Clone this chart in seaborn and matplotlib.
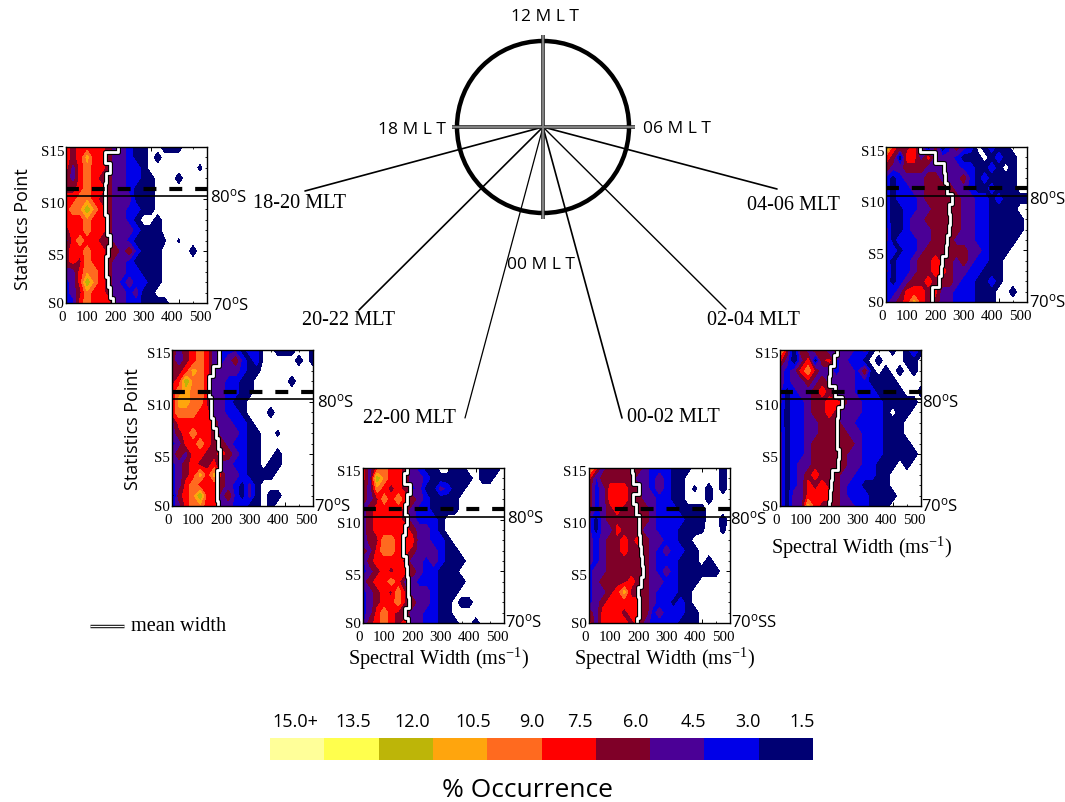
import numpy as np
import matplotlib
matplotlib.use("Agg")
import matplotlib.pyplot as plt
import seaborn as sns
from matplotlib.colors import ListedColormap
from matplotlib.patches import Circle
from matplotlib.ticker import MultipleLocator

# ==========================================
# 1. DATA (percent occurrence, rows S15 -> S0, columns 0-500 every 25 m/s)
# ==========================================
width_bins = np.arange(0, 525, 25)
stat_points = np.arange(15, -1, -1)

occ_18_20 = [
    [8, 7, 8, 8, 8, 8, 7, 5, 5, 4, 2, 2, 1, 1, 2, 2, 2, 1, 1, 1, 1],
    [8, 7, 8, 11, 8, 8, 7, 5, 5, 4, 2, 2, 1, 2, 1, 1, 1, 1, 1, 1, 1],
    [8, 5, 8, 10, 8, 8, 7, 5, 5, 4, 4, 2, 1, 1, 1, 1, 1, 1, 1, 1.7, 1],
    [7, 5, 8, 10, 8, 7, 7, 5, 5, 4, 4, 2, 2, 1, 1, 1, 2, 1, 1, 1, 1],
    [7, 7, 8, 10, 8, 8, 7, 5, 5, 4, 2, 2, 2, 1, 1, 1, 1, 1, 1, 1, 1],
    [8, 8, 10, 10, 8, 7, 7, 5, 5, 5, 2, 2, 2, 1, 1, 1, 1, 1, 1, 1, 1],
    [8, 10, 10, 13, 10, 8, 7, 5, 5, 4, 4, 2, 2, 1, 1, 1, 1, 1, 1, 1, 1],
    [8, 8, 8, 10, 8, 8, 7, 5, 5, 4, 2, 1, 1, 2, 1, 1, 1, 1, 1, 1, 1],
    [7, 8, 8, 10, 8, 8, 7, 5, 5, 5, 4, 2, 2, 2, 1, 1, 1, 1, 1, 1, 1],
    [5, 8, 10, 8, 8, 7, 7, 5, 5, 4, 2, 2, 2, 2, 1.6, 1, 1.6, 1, 1, 1, 1],
    [7, 8, 8, 10, 8, 8, 7, 7, 5, 7, 4, 2, 2, 2, 1, 1, 1, 1, 2, 1, 1],
    [7, 8, 7, 10, 8, 8, 7, 5, 5, 4, 2, 2, 2, 2, 1, 1, 1, 1, 1, 1, 1],
    [5, 5, 8, 10, 10, 8, 7, 5, 5, 4, 4, 2, 2, 2, 1, 1, 1, 1, 1, 1, 1],
    [4, 5, 8, 13, 10, 8, 7, 5, 4, 5, 4, 4, 2, 2, 1, 1, 1, 1, 1, 1, 1],
    [4, 5, 7, 10, 8, 8, 7, 5, 5, 4, 5, 2, 2, 1, 1, 1, 1, 1, 1, 1, 1],
    [4, 4, 8, 10, 8, 8, 8, 5, 5, 4, 4, 2, 2, 2, 2, 1, 1, 1, 1, 1, 1],
]
occ_20_22 = [
    [7, 5, 7, 8, 10, 8, 5, 4, 4, 4, 2, 4, 4, 1, 1, 2, 2, 2, 1, 1, 2],
    [7, 4, 7, 8, 10, 8, 5, 4, 5, 7, 4, 2, 4, 1, 1, 1, 1, 1, 2, 1, 2],
    [7, 7, 8, 11, 10, 8, 5, 5, 5, 5, 4, 2, 2, 1, 1, 1, 1, 1, 1, 1, 1],
    [7, 8, 13, 10, 10, 8, 5, 5, 4, 4, 2, 2, 1, 1, 1, 1, 1, 2, 1, 1, 1],
    [8, 10, 11, 10, 10, 8, 5, 5, 4, 4, 2, 2, 1, 1, 1, 1, 1, 1, 1, 1, 1],
    [7, 11, 11, 10, 10, 7, 5, 5, 4, 2, 2, 1, 1, 1, 1, 1, 1, 1, 1, 1, 1],
    [8, 10, 10, 10, 8, 8, 5, 5, 4, 4, 2, 1, 1, 1, 2, 1, 1, 1, 1, 1, 1],
    [5, 8, 8, 8, 8, 8, 7, 5, 5, 4, 4, 2, 1, 1, 1, 1, 1, 1, 1, 1, 1],
    [5, 7, 8, 10, 8, 8, 7, 5, 5, 5, 4, 2, 2, 1, 1, 1.7, 1, 1, 1, 1, 1],
    [4, 5, 8, 8, 10, 8, 7, 7, 5, 4, 4, 2, 2, 1, 1, 1, 1, 1, 1, 1, 1],
    [5, 7, 5, 8, 8, 7, 7, 8, 7, 5, 4, 2, 2, 1, 1, 2, 1, 1, 1, 1, 1],
    [4, 5, 7, 8, 7, 7, 8, 5, 5, 4, 4, 2, 2, 1, 2, 2, 1, 1, 1, 1, 1],
    [4, 5, 7, 8, 11, 8, 11, 7, 5, 5, 4, 2, 2, 2, 2, 1, 1, 1, 1, 1, 1],
    [4, 5, 8, 10, 8, 8, 8, 7, 5, 4, 2, 5, 2, 1, 1, 1, 1, 1, 1, 1, 1],
    [1, 7, 8, 10, 13, 8, 8, 5, 7, 4, 2, 5, 2, 1, 2, 2, 1, 1, 1, 1, 1],
    [4, 5, 8, 10, 10, 8, 8, 5, 5, 4, 4, 2, 2, 1, 2, 1, 1, 1, 1, 1, 1],
]
occ_22_00 = [
    [8, 5, 8, 10, 8, 8, 7, 5, 4, 2, 2, 1, 1, 2, 2, 1, 1, 2, 2, 2, 1],
    [8, 5, 13, 10, 8, 8, 7, 5, 5, 4, 2, 2, 2, 2, 2, 2, 1, 2, 2, 1, 1],
    [7, 5, 10, 8, 7, 8, 7, 4, 5, 2, 2, 5, 4, 2, 2, 1, 1, 1, 1, 1, 1],
    [7, 5, 7, 10, 8, 10, 8, 7, 5, 4, 2, 2, 2, 2, 1, 1, 1, 1, 1, 1, 1],
    [5, 7, 8, 8, 8, 8, 7, 5, 4, 4, 2, 2, 2, 2, 1, 1, 1, 1, 1, 1, 1],
    [5, 7, 8, 8, 8, 8, 7, 5, 4, 4, 4, 2, 1, 1, 1, 1, 1, 1, 1, 1, 1],
    [5, 7, 8, 8, 8, 8, 8, 7, 5, 5, 4, 2, 1, 1, 1, 1, 1, 1, 1, 1, 1],
    [4, 7, 7, 10, 10, 8, 8, 8, 5, 5, 4, 4, 2, 1, 1, 1, 1, 1, 1, 1, 1],
    [7, 5, 8, 10, 10, 8, 8, 7, 5, 5, 5, 4, 2, 2, 1, 1, 1, 1, 1, 1, 1],
    [4, 7, 8, 8, 8, 8, 7, 5, 5, 4, 5, 4, 2, 2, 2, 1, 1, 1, 1, 1, 1],
    [4, 5, 7, 8, 7, 8, 8, 7, 5, 4, 4, 2, 2, 2, 1, 1, 1, 1, 1, 1, 1],
    [5, 7, 8, 8, 10, 8, 5, 5, 4, 4, 4, 2, 2, 2, 2, 1, 1, 1, 1, 1, 1],
    [4, 5, 7, 8, 7, 10, 7, 5, 5, 5, 4, 2, 2, 2, 1, 1, 1, 1, 1, 1, 1],
    [4, 5, 7, 8, 8, 10, 7, 7, 5, 5, 4, 2, 2, 1, 2, 2, 1, 1, 1, 1, 1],
    [4, 5, 8, 10, 8, 7, 7, 5, 5, 4, 4, 2, 2, 1, 1, 1, 1, 1, 1, 1, 1],
    [4, 7, 8, 10, 8, 7, 8, 5, 5, 4, 4, 2, 2, 2, 1, 1, 2, 1, 1, 1, 1],
]
occ_00_02 = [
    [11, 8, 5, 7, 7, 7, 7, 7, 5, 4, 4, 4, 2, 2, 2, 1, 1, 1, 1, 2, 1],
    [8, 4, 7, 7, 7, 7, 7, 5, 5, 4, 5, 4, 2, 2, 1, 1, 1, 1, 1, 2, 1],
    [7, 4, 5, 8, 8, 8, 7, 7, 5, 4, 5, 4, 2, 2, 1, 1.7, 1, 2, 1, 2, 1],
    [7, 4, 5, 8, 8, 8, 7, 7, 5, 5, 4, 4, 2, 2, 1, 1, 1, 2, 1, 1, 1],
    [7, 4, 5, 7, 8, 7, 7, 7, 7, 5, 4, 4, 4, 2, 2, 2, 2, 1, 1, 1, 1],
    [5, 2, 5, 7, 7, 7, 7, 7, 7, 5, 4, 4, 4, 4, 2, 2, 2, 1, 1, 2, 1],
    [5, 2, 5, 5, 8, 7, 7, 7, 5, 5, 4, 4, 4, 2, 2, 2, 1.7, 1, 1, 1.8, 1],
    [5, 4, 5, 7, 7, 8, 7, 8, 7, 5, 5, 4, 4, 2, 2, 1, 1, 1, 1, 1, 1],
    [5, 4, 5, 7, 7, 8, 7, 7, 7, 5, 4, 5, 4, 4, 2, 2, 1, 1, 1, 1, 1],
    [5, 4, 5, 7, 7, 7, 7, 7, 7, 5, 4, 4, 4, 2, 2, 2, 1, 2, 1, 1, 1],
    [4, 5, 5, 7, 7, 7, 7, 7, 7, 5, 4, 5, 4, 2, 2, 2, 2, 2, 2, 1, 1],
    [4, 5, 7, 7, 7, 7, 8, 7, 7, 5, 5, 4, 4, 2, 2, 2, 1, 1, 1, 1, 1],
    [4, 5, 5, 7, 8, 11, 7, 7, 7, 5, 4, 4, 4, 2, 2, 1, 1, 1, 1, 1, 1],
    [4, 5, 7, 8, 8, 8, 8, 8, 7, 5, 4, 4, 2, 4, 2, 1, 1, 1, 1, 1, 1],
    [7, 5, 8, 8, 8, 7, 8, 8, 7, 4, 5, 4, 4, 4, 2, 2, 1, 1, 1, 1, 1],
    [8, 5, 8, 8, 8, 8, 7, 8, 5, 4, 4, 4, 4, 2, 2, 2, 1, 1, 1, 1, 1],
]
occ_02_04 = [
    [11, 7, 1, 7, 5, 7, 7, 4, 7, 5, 5, 4, 5, 2, 1, 1, 2, 1, 2, 5, 2],
    [8, 5, 1, 5, 8, 1, 7, 8, 4, 5, 4, 4, 2, 1, 2, 1, 1, 1, 2, 2, 1],
    [5, 4, 5, 8, 10, 7, 5, 5, 4, 5, 5, 4, 7, 2, 1, 2, 1, 2, 1, 2, 1],
    [5, 4, 5, 5, 7, 5, 7, 5, 5, 5, 5, 4, 4, 2, 2, 2, 2, 1, 1, 1, 1],
    [5, 2, 4, 5, 5, 7, 8, 7, 5, 5, 5, 4, 4, 4, 2, 2, 2, 2, 1, 1, 2],
    [5, 2, 4, 4, 5, 7, 7, 8, 8, 7, 5, 5, 4, 4, 4, 2, 2, 2, 2, 2, 1],
    [4, 2, 4, 4, 5, 7, 7, 8, 7, 5, 5, 5, 4, 4, 4, 2, 1, 2, 2, 1, 1],
    [4, 2, 4, 4, 5, 5, 7, 7, 7, 5, 5, 4, 4, 4, 4, 2, 2, 2, 1, 1, 1],
    [5, 2, 4, 4, 5, 5, 7, 7, 7, 7, 5, 5, 4, 4, 4, 2, 2, 2, 1, 1, 1],
    [5, 2, 4, 4, 5, 7, 7, 7, 7, 7, 7, 5, 4, 4, 4, 2, 2, 2, 2, 1, 1],
    [5, 2, 4, 4, 5, 7, 7, 7, 7, 7, 5, 5, 4, 4, 4, 2, 2, 2, 2, 2, 1],
    [5, 2, 4, 5, 5, 7, 7, 7, 7, 7, 5, 5, 4, 4, 2, 2, 2, 1, 2, 1, 1],
    [5, 2, 4, 5, 7, 8, 7, 7, 7, 5, 5, 4, 4, 4, 2, 2, 1, 1, 1, 1, 1],
    [5, 2, 4, 5, 8, 7, 8, 7, 7, 5, 4, 4, 2, 2, 2, 2, 1, 1, 1, 1, 1],
    [5, 2, 5, 5, 8, 8, 8, 8, 7, 5, 4, 4, 4, 2, 2, 2, 2, 1, 1, 1, 1],
    [5, 2, 5, 5, 11, 8, 7, 7, 7, 5, 5, 4, 4, 2, 2, 2, 1, 1, 1, 1, 1],
]
occ_04_06 = [
    [14, 8, 7, 7, 8, 5, 1, 7, 1, 4, 7, 5, 4, 1, 2, 4, 2, 2, 1, 1, 1],
    [8, 7, 1, 8, 8, 5, 8, 5, 5, 5, 4, 2, 2, 2, 1, 2, 4, 2, 2, 1, 1],
    [7, 5, 5, 7, 7, 7, 5, 5, 5, 5, 5, 4, 4, 2, 2, 4, 2, 1, 2, 1, 1],
    [4, 2, 4, 5, 5, 5, 7, 7, 5, 5, 5, 7, 4, 2, 4, 2, 2, 2, 2, 1, 1],
    [4, 2, 4, 4, 5, 5, 7, 7, 7, 7, 5, 5, 4, 2, 2, 4, 2, 2, 2, 1, 1],
    [4, 2, 4, 4, 4, 5, 7, 7, 7, 7, 7, 5, 5, 4, 4, 2, 4, 2, 2, 2, 2],
    [4, 2, 2, 4, 4, 5, 5, 7, 7, 7, 7, 5, 5, 4, 4, 2, 2, 2, 2, 1, 1],
    [4, 2, 2, 4, 5, 5, 7, 7, 7, 7, 7, 5, 5, 4, 4, 2, 2, 2, 2, 2, 1],
    [5, 2, 2, 4, 5, 5, 5, 7, 7, 7, 7, 5, 5, 4, 4, 2, 2, 2, 2, 2, 1],
    [5, 2, 4, 4, 4, 5, 5, 7, 7, 7, 5, 5, 5, 4, 4, 2, 2, 2, 2, 1, 1],
    [4, 4, 2, 4, 4, 5, 7, 7, 7, 7, 7, 7, 5, 5, 4, 2, 2, 2, 1, 1, 1],
    [4, 2, 4, 4, 5, 7, 7, 8, 7, 7, 5, 7, 5, 4, 4, 2, 2, 1, 1, 1, 1],
    [5, 2, 4, 4, 5, 7, 7, 8, 8, 7, 5, 5, 4, 4, 2, 2, 2, 1, 1, 1, 1],
    [4, 2, 4, 5, 7, 7, 8, 7, 7, 7, 5, 4, 4, 2, 2, 4, 2, 1, 1, 1, 1],
    [4, 4, 5, 8, 8, 8, 7, 8, 5, 5, 4, 4, 4, 2, 2, 2, 1, 1, 2, 1, 1],
    [4, 5, 7, 8, 11, 8, 7, 7, 5, 5, 4, 4, 4, 2, 2, 2, 1, 1, 1, 1, 1],
]

mean_18_20 = [184, 137, 155, 143, 137, 140, 140, 145, 147, 155, 149, 143, 143, 149, 155, 167]
mean_20_22 = [165, 165, 145, 131, 131, 137, 139, 145, 157, 163, 171, 171, 161, 161, 161, 163]
mean_22_00 = [156, 144, 168, 156, 148, 156, 148, 142, 142, 151, 156, 160, 160, 163, 148, 160]
mean_00_02 = [152, 156, 177, 156, 165, 177, 177, 182, 186, 189, 191, 186, 174, 177, 177, 170]
mean_02_04 = [201, 193, 177, 175, 195, 219, 207, 203, 203, 203, 208, 207, 183, 180, 177, 174]
mean_04_06 = [119, 175, 204, 210, 216, 234, 225, 228, 222, 216, 214, 199, 195, 187, 163, 163]

occ_levels = [15.0, 13.5, 12.0, 10.5, 9.0, 7.5, 6.0, 4.5, 3.0, 1.5]
occ_labels = ['15.0+', '13.5', '12.0', '10.5', '9.0', '7.5', '6.0', '4.5', '3.0', '1.5']
occ_colors = ['#000073', '#0000E8', '#4B0096', '#7F0028', '#FF0000',
              '#FF6A1F', '#FFA50D', '#BDB508', '#FFFF4D', '#FFFF99']

# ==========================================
# 2. LAYOUT (pixels in the 1065x803 picture)
# ==========================================
W, H = 1065, 803
SERIF = 'Liberation Serif'
SANS = 'Open Sans'

sns.set_theme(style='white')
plt.rcParams['font.family'] = [SERIF, 'DejaVu Sans']
plt.rcParams['mathtext.default'] = 'regular'

fig = plt.figure(figsize=(W / 100, H / 100), dpi=100)
bg = fig.add_axes([0, 0, 1, 1])
bg.set_xlim(0, W)
bg.set_ylim(H, 0)
bg.axis('off')

def px_axes(left, right, top, bottom):
    return fig.add_axes([left / W, 1 - bottom / H, (right - left) / W, (bottom - top) / H])

# data, mean, box, 80S label, 70S label text and place, y title place, x title centre and y
panels = [
    (occ_18_20, mean_18_20, (66, 207, 148, 304), (210, 197), ('70$^{o}$S', 212, 305), (23, 229), None),
    (occ_20_22, mean_20_22, (172, 313, 351, 507), (317, 402), ('70$^{o}$S', 314, 506), (133, 429), None),
    (occ_22_00, mean_22_00, (363, 504, 469, 624), (507, 518), ('70$^{o}$S', 505, 622), None, (439, 659)),
    (occ_00_02, mean_00_02, (589, 730, 469, 624), (730, 519), ('70$^{o}$SS', 731, 622), None, (665, 659)),
    (occ_02_04, mean_02_04, (780, 921, 351, 507), (922, 402), ('70$^{o}$S', 921, 506), None, (862, 548)),
    (occ_04_06, mean_04_06, (886, 1027, 148, 303), (1029, 199), ('70$^{o}$S', 1029, 302), None, None),
]

# ==========================================
# 3. CLOCK DIAL AND SPOKES
# ==========================================
cx, cy = 543, 128
for ex, ey, lw in [(305, 192, 1.2), (359, 311, 1.2), (465, 419, 0.9), (622, 419, 1.2),
                   (726, 310, 1.0), (777, 190, 1.2)]:
    bg.plot([cx, ex], [cy, ey], color='black', lw=lw)
bg.add_patch(Circle((cx, cy), 86, fill=False, ec='black', lw=3.2))
for color, lw in [('#222222', 2.6), ('#808080', 1.5)]:
    bg.plot([cx, cx], [36, 220], color=color, lw=lw, solid_capstyle='butt')
    bg.plot([452, 635], [cy, cy], color=color, lw=lw, solid_capstyle='butt')

for txt, x, y, ha in [('12 M L T', 545, 17, 'center'), ('18 M L T', 378, 130, 'left'),
                      ('06 M L T', 643, 129, 'left'), ('00 M L T', 507, 265, 'left')]:
    bg.text(x, y, txt, family=SANS, fontsize=12.5, color='black', ha=ha, va='center')

for txt, x, y in [('18-20 MLT', 253, 203), ('20-22 MLT', 302, 321), ('22-00 MLT', 363, 419),
                  ('00-02 MLT', 627, 418), ('02-04 MLT', 707, 321), ('04-06 MLT', 747, 206)]:
    bg.text(x, y, txt, fontsize=14.6, color='black', ha='left', va='center')

# ==========================================
# 4. CONTOUR PANELS
# ==========================================
levels = [1.5, 3, 4.5, 6, 7.5, 9, 10.5, 12, 13.5, 15, 100]
for occ, mean, box, lab80, lab70, ytitle, xtitle in panels:
    ax = px_axes(*box)
    ax.set_facecolor('white')
    ax.contourf(width_bins, stat_points, np.array(occ, dtype=float), levels=levels, colors=occ_colors)

    # mean width: one step per statistics point, white with a black edge
    step_x = np.repeat(mean, 2)
    step_y = np.column_stack([stat_points + 0.5, stat_points - 0.5]).ravel().clip(0, 15)
    for color, lw in [('black', 3.6), ('white', 2.0)]:
        sns.lineplot(x=step_x, y=step_y, sort=False, estimator=None, color=color, lw=lw, ax=ax)

    ax.axhline(11, color='black', lw=3.0, dashes=(3.1, 3.1))
    ax.axhline(10.3, color='black', lw=1.2)
    ax.set_xlim(0, 500)
    ax.set_ylim(0, 15)
    ax.set_xlabel('')
    ax.set_ylabel('')
    ax.set_xticks(range(0, 600, 100))
    ax.set_xticklabels([])
    ax.set_yticks([0, 5, 10, 15])
    ax.set_yticklabels([])
    ax.xaxis.set_minor_locator(MultipleLocator(50))
    ax.yaxis.set_minor_locator(MultipleLocator(1))
    ax.tick_params(which='major', direction='in', length=3, width=0.7, top=True, right=True,
                   bottom=True, left=True, color='black')
    ax.tick_params(which='minor', direction='in', length=1.5, width=0.6, top=True, right=True,
                   bottom=True, left=True, color='black')
    for s in ax.spines.values():
        s.set_visible(True)
        s.set_color('black')
        s.set_linewidth(1.0)

    left, right, top, bottom = box
    for v in range(0, 600, 100):
        shift = 4 if v == 0 else 7
        bg.text(left + v / 500 * (right - left) - shift, bottom + 14, str(v), fontsize=10.8,
                color='black', ha='center', va='center')
    for v in [0, 5, 10, 15]:
        shift = 1 if v == 0 else 4
        bg.text(left - 2, bottom - v / 15 * (bottom - top) + shift, 'S%d' % v, fontsize=10.8,
                color='black', ha='right', va='center')
    bg.text(lab80[0], lab80[1], '80$^{o}$S', family=SANS, fontsize=12, color='black', ha='left', va='center')
    bg.text(lab70[1], lab70[2], lab70[0], family=SANS, fontsize=12, color='black', ha='left', va='center')
    if ytitle is not None:
        bg.text(ytitle[0], ytitle[1], 'Statistics Point', family=SANS, fontsize=13,
                color='black', rotation=90, ha='center', va='center')
    if xtitle is not None:
        bg.text(xtitle[0], xtitle[1], 'Spectral Width (ms$^{-1}$)', fontsize=14.6, color='black',
                ha='center', va='center')

# mean width key
for color, lw in [('#222222', 2.5), ('white', 0.8)]:
    bg.plot([90, 124], [627, 627], color=color, lw=lw, solid_capstyle='butt')
bg.text(131, 627, 'mean width', fontsize=14.6, color='black', ha='left', va='center')

# ==========================================
# 5. COLOUR KEY
# ==========================================
cax = px_axes(270, 813, 739, 761)
sns.heatmap(np.array([occ_levels]), cmap=ListedColormap(occ_colors), vmin=0.75, vmax=15.75,
            cbar=False, xticklabels=False, yticklabels=False, ax=cax)
for lab, x in zip(occ_labels, [295, 353, 412, 473, 532, 580, 636, 693, 748, 802]):
    bg.text(x, 722, lab, family=SANS, fontsize=13, color='black', ha='center', va='center')
bg.text(527, 791, '% Occurrence', family=SANS, fontsize=19, color='black', ha='center', va='center')

plt.savefig('out.png', dpi=100)
